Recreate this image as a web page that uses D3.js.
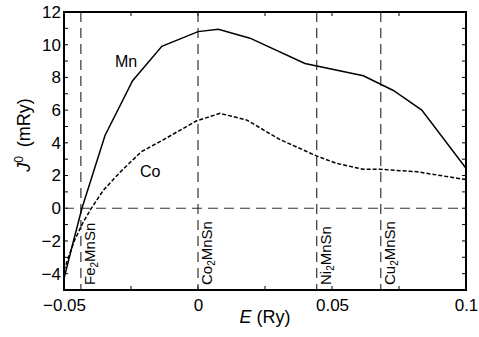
<!DOCTYPE html>
<html>
<head>
<meta charset="utf-8">
<script src="https://cdn.jsdelivr.net/npm/d3@7"></script>
<style>
  html, body { margin: 0; padding: 0; background: #fff; }
  svg { display: block; }
  text { font-family: "Liberation Sans", Arial, sans-serif; fill: #000; }
</style>
</head>
<body>
<svg id="chart" width="479" height="337"></svg>
<script>
// ---- data ----
const mnE = [-0.05, -0.0463, -0.0433, -0.0347, -0.0244, -0.0135, 0.0, 0.0076, 0.0194, 0.0399, 0.0617, 0.0729, 0.0835, 0.1];
const mnJ = [-4.3, -1.9, 0.0, 4.45, 7.8, 9.9, 10.8, 10.95, 10.4, 8.85, 8.1, 7.2, 6.0, 2.45];
const coE = [-0.05, -0.0463, -0.0433, -0.0400, -0.0353, -0.0288, -0.0212, -0.0128, -0.0005, 0.0082, 0.0181, 0.0306, 0.0442, 0.0516, 0.0617, 0.068, 0.0817, 0.1];
const coJ = [-3.8, -2.05, -1.0, -0.05, 1.1, 2.25, 3.45, 4.2, 5.35, 5.8, 5.4, 4.2, 3.2, 2.75, 2.38, 2.38, 2.23, 1.75];
const compounds = ["Fe", "Co", "Ni", "Cu"];
const compoundE = [-0.0437, 0.0, 0.0443, 0.0682];
const xTickValues = [-0.05, 0, 0.05, 0.1];
const xTickLabels = ["\u22120.05", "0", "0.05", "0.1"];
const yTickValues = [-4, -2, 0, 2, 4, 6, 8, 10, 12];
const yTickLabels = ["\u22124", "\u22122", "0", "2", "4", "6", "8", "10", "12"];

// ---- layout ----
const svg = d3.select("#chart");
const m = { left: 64, top: 12, right: 13, bottom: 47 };
const W = 479 - m.left - m.right, H = 337 - m.top - m.bottom;
const x = d3.scaleLinear().domain([-0.05, 0.1]).range([0, W]);
const y = d3.scaleLinear().domain([-5, 12]).range([H, 0]);
const g = svg.append("g").attr("transform", `translate(${m.left},${m.top})`);

// minor/major ticks (inward) on all four sides
const xTicksAll = d3.range(-0.05, 0.1001, 0.025);
const yTicksAll = d3.range(-5, 12.001, 1);
const tickLen = 4;
const tg = g.append("g").attr("stroke", "#000").attr("stroke-width", 1);
xTicksAll.forEach(v => {
  tg.append("line").attr("x1", x(v)).attr("x2", x(v)).attr("y1", H).attr("y2", H - tickLen);
  tg.append("line").attr("x1", x(v)).attr("x2", x(v)).attr("y1", 0).attr("y2", tickLen);
});
yTicksAll.forEach(v => {
  tg.append("line").attr("x1", 0).attr("x2", tickLen).attr("y1", y(v)).attr("y2", y(v));
  tg.append("line").attr("x1", W).attr("x2", W - tickLen).attr("y1", y(v)).attr("y2", y(v));
});

// tick labels via axes
const xAxis = d3.axisBottom(x).tickValues(xTickValues).tickSize(0).tickPadding(9)
  .tickFormat((d, i) => xTickLabels[i]);
const xa = g.append("g").attr("transform", `translate(0,${H})`).call(xAxis);
xa.select(".domain").remove();
xa.selectAll("text").attr("font-size", 17).attr("font-family", "Liberation Sans, Arial, sans-serif");

const yAxis = d3.axisLeft(y).tickValues(yTickValues).tickSize(0).tickPadding(3)
  .tickFormat((d, i) => yTickLabels[i]);
const ya = g.append("g").call(yAxis);
ya.select(".domain").remove();
ya.selectAll("text").attr("font-size", 17).attr("font-family", "Liberation Sans, Arial, sans-serif");

// dashed reference lines
const dashColor = "#333";
g.append("line").attr("x1", 0).attr("x2", W).attr("y1", y(0)).attr("y2", y(0))
  .attr("stroke", dashColor).attr("stroke-width", 1.2).attr("stroke-dasharray", "10,6");
compoundE.forEach((e, i) => {
  g.append("line").attr("x1", x(e)).attr("x2", x(e)).attr("y1", 0).attr("y2", H)
    .attr("stroke", dashColor).attr("stroke-width", 1.2).attr("stroke-dasharray", "10,6");
  const t = g.append("text")
    .attr("transform", `translate(${x(e) + 14},${H - 5}) rotate(-90)`)
    .attr("font-size", 15);
  t.append("tspan").text(compounds[i]);
  t.append("tspan").attr("font-size", 10).attr("dy", 3).text("2");
  t.append("tspan").attr("dy", -3).text("MnSn");
});

// curves
const line = d3.line().x(d => x(d[0])).y(d => y(d[1]));
g.append("path").datum(mnE.map((e, i) => [e, mnJ[i]]))
  .attr("d", line).attr("fill", "none").attr("stroke", "#000").attr("stroke-width", 1.5);
g.append("path").datum(coE.map((e, i) => [e, coJ[i]]))
  .attr("d", line).attr("fill", "none").attr("stroke", "#000").attr("stroke-width", 1.5)
  .attr("stroke-dasharray", "4,2");

// curve labels
g.append("text").attr("x", 115 - m.left).attr("y", 67 - m.top).attr("font-size", 16).text("Mn");
g.append("text").attr("x", 140 - m.left).attr("y", 177 - m.top).attr("font-size", 16).text("Co");

// frame
g.append("rect").attr("x", 0).attr("y", 0).attr("width", W).attr("height", H)
  .attr("fill", "none").attr("stroke", "#000").attr("stroke-width", 2);

// axis titles
const xt = svg.append("text").attr("x", m.left + W / 2).attr("y", 323)
  .attr("text-anchor", "middle").attr("font-size", 18);
xt.append("tspan").attr("font-style", "italic").text("E");
xt.append("tspan").text(" (Ry)");

const yt = svg.append("text").attr("transform", `translate(30,135) rotate(-90)`)
  .attr("text-anchor", "middle").attr("font-size", 18);
yt.append("tspan").attr("font-style", "italic").text("J");
yt.append("tspan").attr("font-size", 12).attr("dy", -7).text("0");
yt.append("tspan").attr("dy", 7).text("\u2002(mRy)");
</script>
</body>
</html>
